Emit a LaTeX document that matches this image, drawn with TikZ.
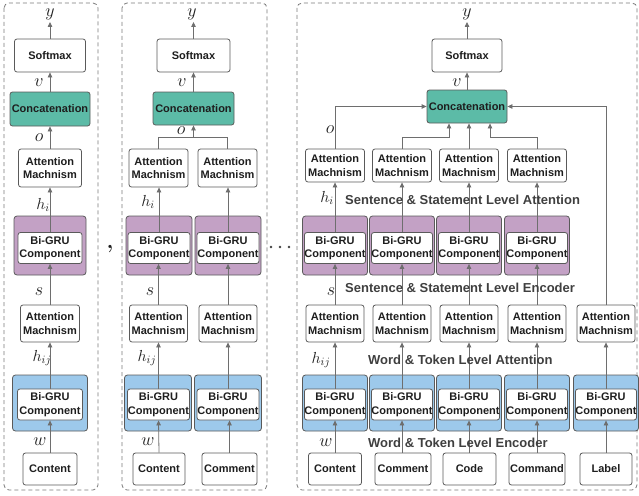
\RequirePackage{fix-cm}
\documentclass[tikz,border=0pt]{standalone}
\usepackage{fontspec}
\newfontfamily\sansf{Liberation Sans}
\usetikzlibrary{arrows.meta}
\definecolor{tealc}{HTML}{5CBBA7}
\definecolor{purc}{HTML}{C3A1C5}
\definecolor{bluec}{HTML}{9DC9EB}
\definecolor{linec}{HTML}{6E6E6E}
\definecolor{bordc}{HTML}{5A5A5A}
\definecolor{txtc}{HTML}{1E1E1E}
\definecolor{lvlc}{HTML}{3F3F3F}
\definecolor{dashc}{HTML}{7A7A7A}
\tikzset{
  box/.style={draw=bordc, fill=white, rounded corners=2.5pt, line width=0.8pt, inner sep=0pt,
    align=center, font=\sansf\bfseries\fontsize{11}{13.5}\selectfont, text=txtc},
  outerbox/.style={draw=bordc, rounded corners=3pt, line width=0.8pt, inner sep=0pt},
  sz/.style 2 args={minimum width=#1pt, minimum height=#2pt},
  conn/.style={draw=linec, line width=0.8pt, -{Triangle[length=5pt,width=4.5pt]}},
  plain/.style={draw=linec, line width=0.8pt},
  lab/.style={font=\fontsize{18}{18}\selectfont, inner sep=0pt, text=txtc},
  labh/.style={font=\fontsize{16}{16}\selectfont, inner sep=0pt, text=txtc},
  lvl/.style={font=\sansf\bfseries\fontsize{13}{13}\selectfont, text=lvlc, inner sep=0pt, anchor=west},
  panel/.style={draw=dashc, dash pattern=on 4pt off 3pt, line width=0.8pt, rounded corners=5pt}
}
\begin{document}
\begin{tikzpicture}[x=1pt,y=-1pt]
\useasboundingbox (0,0) rectangle (639,495);
% panels
\draw[panel] (4,3) rectangle (98,490);
\draw[panel] (122,3) rectangle (267,490);
\draw[panel] (297,3) rectangle (637,490);
% separators
\node[font=\bfseries\fontsize{22}{22}\selectfont, inner sep=0pt, text=txtc] (comma) at (110,249) {,};
\foreach \i/\xx in {1/271,2/280,3/289}{\fill[black!75] (\xx,247) circle (1.4pt);}

% ---------- Panel 1 ----------
\node[box, sz={71}{33}] (s1) at (50,55.5) {Softmax};
\node[box, fill=tealc, sz={80}{34}] (c1) at (50,109) {Concatenation};
\node[box, sz={63}{38}] (a1) at (50,168) {Attention\\Machnism};
\node[outerbox, fill=purc, sz={72}{59}] (p1) at (50,245.5) {};
\node[box, sz={64}{31}] (g1) at (50,248) {Bi-GRU\\Component};
\node[box, sz={59}{37}] (b1) at (50,323.5) {Attention\\Machnism};
\node[outerbox, fill=bluec, sz={75}{56}] (q1) at (50,403) {};
\node[box, sz={65}{31}] (k1) at (50,404.5) {Bi-GRU\\Component};
\node[box, sz={54}{32}] (i1) at (50,469) {Content};
\coordinate (y1) at (50,22);
\draw[conn] (i1.north) -- (k1.south);
\draw[conn] (k1.north) -- (b1.south);
\draw[conn] (b1.north) -- (g1.south);
\draw[conn] (g1.north) -- (a1.south);
\draw[conn] (a1.north) -- (c1.south);
\draw[conn] (c1.north) -- (s1.south);
\draw[conn] (s1.north) -- (y1);
\node[lab] at (50,14) {$y$};
\node[lab] at (39,83) {$v$};
\node[lab] at (39,138) {$o$};
\node[labh] at (43,205) {$h_i$};
\node[lab] at (39,292) {$s$};
\node[labh] at (42,358) {$h_{ij}$};
\node[lab] at (40,442) {$w$};

% ---------- Panel 2 ----------
\node[box, sz={73}{33}] (s2) at (193.5,55.5) {Softmax};
\node[box, fill=tealc, sz={81}{33}] (c2) at (193.5,108.5) {Concatenation};
\node[box, sz={59}{38}] (a2a) at (158.5,168) {Attention\\Machnism};
\node[box, sz={59}{38}] (a2b) at (227.5,168) {Attention\\Machnism};
\node[outerbox, fill=purc, sz={66}{59}] (p2a) at (159,245.5) {};
\node[outerbox, fill=purc, sz={66}{59}] (p2b) at (228,245.5) {};
\node[box, sz={62}{31}] (g2a) at (159,248) {Bi-GRU\\Component};
\node[box, sz={62}{31}] (g2b) at (228,248) {Bi-GRU\\Component};
\node[box, sz={58}{37}] (b2a) at (158.5,323.5) {Attention\\Machnism};
\node[box, sz={58}{37}] (b2b) at (228,323.5) {Attention\\Machnism};
\node[outerbox, fill=bluec, sz={67}{56}] (q2a) at (158,403) {};
\node[outerbox, fill=bluec, sz={67}{56}] (q2b) at (228,403) {};
\node[box, sz={62}{31}] (k2a) at (158.5,404.5) {Bi-GRU\\Component};
\node[box, sz={62}{31}] (k2b) at (228,404.5) {Bi-GRU\\Component};
\node[box, sz={52}{32}] (i2a) at (159,469) {Content};
\node[box, sz={55}{32}] (i2b) at (229.5,469) {Comment};
\coordinate (j2) at (193.5,137);
\coordinate (y2) at (193.5,22);
\draw[conn] (i2a.north) -- (k2a.south);
\draw[conn] (i2b.north) -- (i2b.north |- k2b.south);
\draw[conn] (k2a.north) -- (k2a.north |- b2a.south);
\draw[conn] (k2b.north) -- (b2b.south);
\draw[conn] (b2a.north) -- (b2a.north |- g2a.south);
\draw[conn] (b2b.north) -- (g2b.south);
\draw[conn] (g2a.north) -- (g2a.north |- a2a.south);
\draw[conn] (g2b.north) -- (g2b.north |- a2b.south);
\draw[plain] (a2a.north) |- (j2);
\draw[plain] (a2b.north) |- (j2);
\draw[conn] (j2) -- (c2.south);
\draw[conn] (c2.north) -- (s2.south);
\draw[conn] (s2.north) -- (y2);
\node[lab] at (192,14) {$y$};
\node[lab] at (182,83) {$v$};
\node[lab] at (181,131) {$o$};
\node[labh] at (148,202) {$h_i$};
\node[lab] at (150,292) {$s$};
\node[labh] at (147,358) {$h_{ij}$};
\node[lab] at (148,442) {$w$};

% ---------- Panel 3 ----------
\node[box, sz={70}{33}] (s3) at (467,55.5) {Softmax};
\node[box, fill=tealc, sz={80}{33}] (c3) at (467,106.5) {Concatenation};
\foreach \n/\xx in {a/335,b/402,c/469,d/537}{
  \node[box, sz={59}{33}] (r1\n) at (\xx,165.5) {Attention\\Machnism};
  \node[outerbox, fill=purc, sz={65}{59}] (p3\n) at (\xx,245.5) {};
  \node[box, sz={61}{31}] (g3\n) at (\xx,248) {Bi-GRU\\Component};
}
\foreach \n/\xx in {a/335,b/402,c/469,d/537,e/606}{
  \node[box, sz={58}{37}] (r2\n) at (\xx,323.5) {Attention\\Machnism};
  \node[outerbox, fill=bluec, sz={65}{56}] (q3\n) at (\xx,403) {};
  \node[box, sz={61}{31}] (k3\n) at (\xx,404.5) {Bi-GRU\\Component};
}
\node[box, sz={53}{32}] (i3a) at (335,469) {Content};
\node[box, sz={56}{32}] (i3b) at (403,469) {Comment};
\node[box, sz={53}{32}] (i3c) at (469.5,469) {Code};
\node[box, sz={56}{32}] (i3d) at (537,469) {Command};
\node[box, sz={52}{32}] (i3e) at (606,469) {Label};
\foreach \n in {a,b,c,d,e}{
  \draw[conn] (k3\n.north |- i3\n.north) -- (k3\n.south);
  \draw[conn] (k3\n.north) -- (r2\n.south);
}
\foreach \n in {a,b,c,d}{
  \draw[conn] (r2\n.north) -- (g3\n.south);
  \draw[conn] (g3\n.north) -- (r1\n.south);
}
\coordinate (m2) at (449,137);
\coordinate (m4) at (490,137);
\coordinate (y3) at (467,22);
\draw[conn] (r1a.north) |- (c3.west);
\draw[conn] (r2e.north) |- (c3.east);
\draw[conn] (r1b.north) |- (m2) -- (m2 |- c3.south);
\draw[conn] (r1c.north) -- (r1c.north |- c3.south);
\draw[conn] (r1d.north) |- (m4) -- (m4 |- c3.south);
\draw[conn] (c3.north) -- (s3.south);
\draw[conn] (s3.north) -- (y3);
\node[lab] at (467,14) {$y$};
\node[lab] at (457,83) {$v$};
\node[lab] at (330,130) {$o$};
\node[labh] at (327,198) {$h_i$};
\node[lab] at (331,292) {$s$};
\node[labh] at (321,360) {$h_{ij}$};
\node[lab] at (326,443) {$w$};
\node[lvl] (t1) at (345,200) {Sentence \& Statement Level Attention};
\node[lvl] (t2) at (345,288) {Sentence \& Statement Level Encoder};
\node[lvl] (t3) at (368,360) {Word \& Token Level Attention};
\node[lvl] (t4) at (368,443) {Word \& Token Level Encoder};
\end{tikzpicture}
\end{document}
